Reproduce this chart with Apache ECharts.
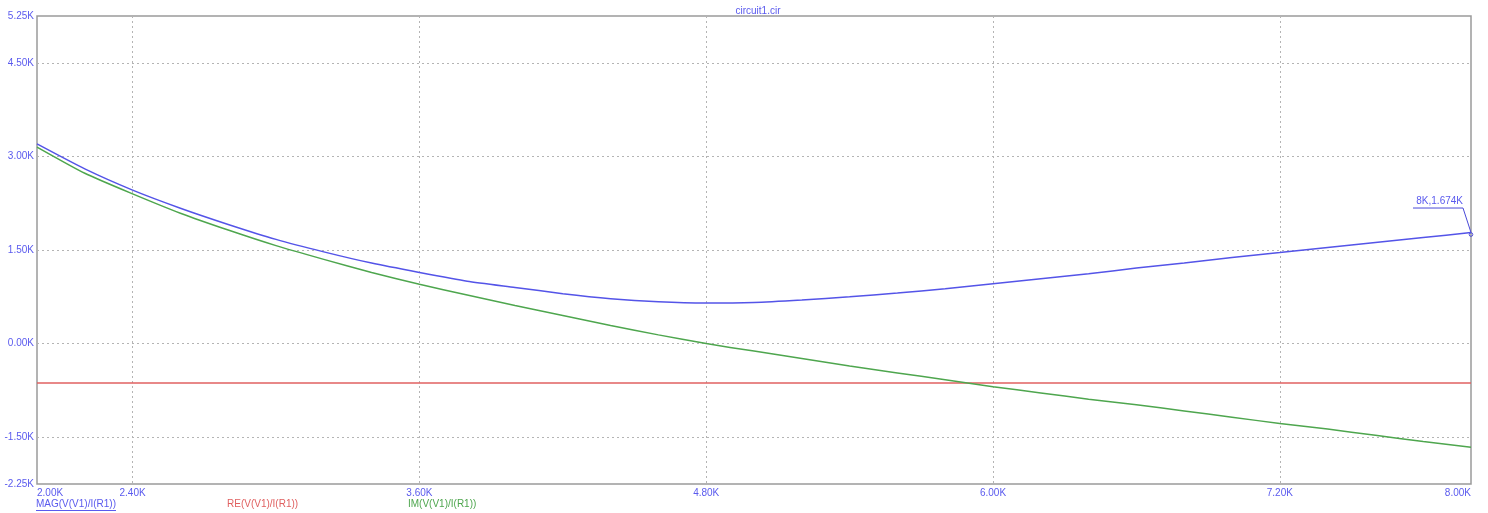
<!DOCTYPE html>
<html><head><meta charset="utf-8">
<script src="https://cdn.jsdelivr.net/npm/echarts@6/dist/echarts.min.js"></script>
<style>html,body{margin:0;padding:0;background:#fff}#c{width:1488px;height:513px}</style>
</head><body><div id="c"></div>
<script>
const title = 'circuit1.cir';
const freq = [2000, 2200, 2400, 2600, 2800, 3000, 3200, 3400, 3600, 3800, 4000, 4200, 4400, 4600, 4800, 5000,
              5200, 5400, 5600, 5800, 6000, 6200, 6400, 6600, 6800, 7000, 7200, 7400, 7600, 7800, 8000];
const magVals = [3.20, 2.80, 2.46, 2.17, 1.91, 1.67, 1.47, 1.29, 1.14, 1.00, 0.90, 0.80, 0.72, 0.67, 0.65, 0.66,
                 0.70, 0.75, 0.81, 0.88, 0.96, 1.04, 1.12, 1.21, 1.29, 1.38, 1.46, 1.54, 1.62, 1.70, 1.78];
const imVals  = [3.15, 2.73, 2.40, 2.09, 1.82, 1.57, 1.35, 1.14, 0.95, 0.78, 0.61, 0.45, 0.29, 0.14, 0.00, -0.12,
                 -0.24, -0.36, -0.47, -0.58, -0.69, -0.79, -0.89, -0.98, -1.08, -1.18, -1.28, -1.37, -1.47, -1.57, -1.66];
const reFreq = [2000, 8000];
const reVals = [-0.63, -0.63];
const seriesNames = ['MAG(V(V1)/I(R1))', 'RE(V(V1)/I(R1))', 'IM(V(V1)/I(R1))'];
const xGridTicks = [2400, 3600, 4800, 6000, 7200];
const xLabelTicks = [2000, 2400, 3600, 4800, 6000, 7200, 8000];
const yGridTicks = [-1500, 0, 1500, 3000, 4500];
const yLabelTicks = [-2250, -1500, 0, 1500, 3000, 4500, 5250];
const cursorLabel = '8K,1.674K';

const colors = ['#5454e8', '#e06060', '#4ea64e'];
const textBlue = '#5a5aee';
const font = '"Liberation Sans", Arial, sans-serif';
const fmtK = v => (v / 1000).toFixed(2) + 'K';
const toPairs = (xs, vals) => xs.map((f, i) => [f, vals[i] * 1000]);

const chart = echarts.init(document.getElementById('c'), null, {renderer: 'canvas'});
const gridLine = {show: true, lineStyle: {color: '#b4b4b4', type: [2, 3], width: 1}};
chart.setOption({
  backgroundColor: '#fff',
  animation: false,
  title: {text: title, left: 753, top: 1, textAlign: 'center',
    textStyle: {color: textBlue, fontSize: 10, fontWeight: 'normal', fontFamily: font}},
  grid: {left: 37, right: 17, top: 16, bottom: 29, show: true, borderColor: '#9a9a9a', borderWidth: 1.5, backgroundColor: '#fff'},
  xAxis: {type: 'value', min: 2000, max: 8000,
    axisLine: {show: false}, axisTick: {show: false, customValues: xGridTicks},
    splitLine: gridLine,
    axisLabel: {customValues: xLabelTicks, formatter: fmtK, color: textBlue, fontSize: 10, fontFamily: font, margin: 4,
      alignMinLabel: 'left', alignMaxLabel: 'right'}},
  yAxis: {type: 'value', min: -2250, max: 5250,
    axisLine: {show: false}, axisTick: {show: false, customValues: yGridTicks},
    splitLine: gridLine,
    axisLabel: {customValues: yLabelTicks, formatter: fmtK, color: textBlue, fontSize: 10, fontFamily: font, margin: 3}},
  series: [
    {name: seriesNames[0], type: 'line', data: toPairs(freq, magVals), smooth: 0.2, showSymbol: false, lineStyle: {color: colors[0], width: 1.5}, z: 4},
    {name: seriesNames[1], type: 'line', data: toPairs(reFreq, reVals), showSymbol: false, lineStyle: {color: colors[1], width: 1.5}, z: 3},
    {name: seriesNames[2], type: 'line', data: toPairs(freq, imVals), smooth: 0.2, showSymbol: false, lineStyle: {color: colors[2], width: 1.5}, z: 3}
  ]
});

const legendX = [36, 227, 408];
const legendFill = [textBlue, colors[1], colors[2]];
const gfx = [];
seriesNames.forEach((n, i) => {
  gfx.push({type: 'text', left: legendX[i], top: 499, style: {text: n, fill: legendFill[i], font: '10px ' + font}});
});
gfx.push({type: 'line', shape: {x1: 36, y1: 510.5, x2: 116, y2: 510.5}, style: {stroke: textBlue, lineWidth: 1}});
const pt = chart.convertToPixel({gridIndex: 0}, [freq[freq.length - 1], magVals[magVals.length - 1] * 1000]);
gfx.push({type: 'text', x: pt[0] - 8, y: pt[1] - 26, style: {text: cursorLabel, fill: textBlue, font: '10px ' + font, align: 'right', verticalAlign: 'bottom'}});
gfx.push({type: 'polyline', shape: {points: [[pt[0] - 58, pt[1] - 24.5], [pt[0] - 8, pt[1] - 24.5], [pt[0], pt[1]]]}, style: {stroke: '#4a4ad8', lineWidth: 1, fill: null}});
gfx.push({type: 'circle', shape: {cx: pt[0], cy: pt[1] + 2, r: 1.8}, style: {stroke: '#4a4ad8', fill: null, lineWidth: 1}});
chart.setOption({graphic: gfx});
</script>
</body></html>
